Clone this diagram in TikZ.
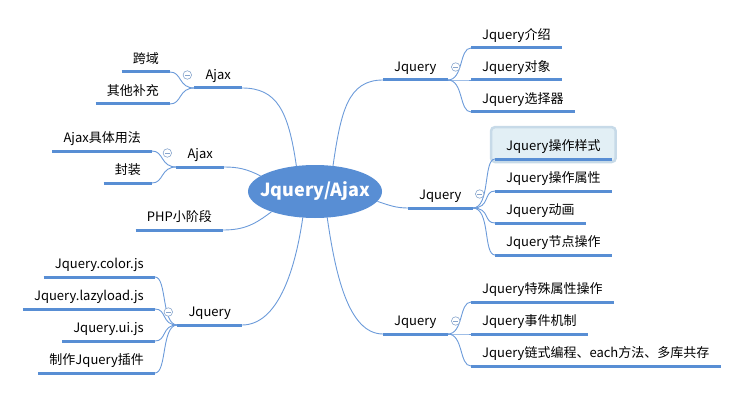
\documentclass[tikz,border=0pt]{standalone}
\usepackage{fontspec}
\setmainfont{Noto Sans CJK SC}
\usepackage{tikz}
\usetikzlibrary{shapes.geometric,positioning,backgrounds}

\definecolor{mapblue}{RGB}{88,142,212}
\definecolor{linkblue}{RGB}{108,155,218}
\definecolor{foldgray}{RGB}{135,165,205}
\definecolor{selfill}{RGB}{226,239,245}
\definecolor{selline}{RGB}{199,218,232}

\tikzset{
  root/.style={ellipse, fill=mapblue,
     minimum width=134pt, minimum height=53pt, inner sep=0pt},
  root label/.style={text=white, font=\fontsize{18}{20}\selectfont\bfseries, inner sep=0pt},
  topic/.style={font=\fontsize{13}{15}\selectfont,
     inner xsep=11pt, inner ysep=5pt, text height=9.5pt, text depth=3pt},
  uline/.style={draw=mapblue, line width=3pt},
  link/.style={draw=linkblue, line width=0.9pt},
  fold/.style={circle, draw=foldgray, line width=0.6pt, fill=white,
     minimum size=8.5pt, inner sep=0pt,
     path picture={\draw[foldgray, line width=0.6pt]
        ([xshift=-2.3pt]path picture bounding box.center) --
        ([xshift=2.3pt]path picture bounding box.center);}},
  selbox/.style={draw=selline, fill=selfill, line width=2.5pt, rounded corners=4pt}
}

\begin{document}
\begin{tikzpicture}[x=1pt, y=-1pt]
  \useasboundingbox (0,0) rectangle (749,401);

  % Root
  \node[root] (root) at (315,191.5) {};
  \node[root label] (rootlabel) at (root.center) {Jquery/Ajax};

  % Main topics
  \node[topic, anchor=south west] (j1) at (383,80) {Jquery};
  \node[topic, anchor=south west] (j2) at (408,208) {Jquery};
  \node[topic, anchor=south west] (j3) at (383,334) {Jquery};
  \node[topic, anchor=south east] (a1) at (242,88) {Ajax};
  \node[topic, anchor=south east] (a2) at (224,167) {Ajax};
  \node[topic, anchor=south east] (php) at (223,230) {PHP小阶段};
  \node[topic, anchor=south east] (j4) at (242,325) {Jquery};

  % Subtopics
  \foreach \t [count=\i] in {Jquery介绍,Jquery对象,Jquery选择器}
    \node[topic, anchor=south west] (j1c\i) at (471,16+32*\i) {\t};
  \foreach \t [count=\i] in {Jquery操作样式,Jquery操作属性,Jquery动画,Jquery节点操作}
    \node[topic, anchor=south west] (j2c\i) at (495,127+32*\i) {\t};
  \foreach \t [count=\i] in {Jquery特殊属性操作,Jquery事件机制,Jquery链式编程、each方法、多库共存}
    \node[topic, anchor=south west] (j3c\i) at (471,270+32*\i) {\t};
  \foreach \t [count=\i] in {跨域,其他补充}
    \node[topic, anchor=south east] (a1c\i) at (170,40+32*\i) {\t};
  \foreach \t [count=\i] in {Ajax具体用法,封装}
    \node[topic, anchor=south east] (a2c\i) at (152,119+32*\i) {\t};
  \foreach \t [count=\i] in {Jquery.color.js,Jquery.lazyload.js,Jquery.ui.js,制作Jquery插件}
    \node[topic, anchor=south east] (j4c\i) at (155,245+32*\i) {\t};

  % Selected subtopic
  \begin{scope}[on background layer]
    \draw[selbox] ([xshift=-4pt,yshift=-3pt]j2c1.south west)
      rectangle ([xshift=4pt,yshift=9pt]j2c1.north east);
  \end{scope}

  % Branches
  \draw[link] (root.55) .. controls +(8,-55) and +(-35,0) .. (j1.south west);
  \draw[link] (root.351) .. controls +(12,4) and +(-12,0) .. (j2.south west);
  \draw[link] (root.295) .. controls +(8,55) and +(-35,0) .. (j3.south west);
  \draw[link] (root.126) .. controls +(-8,-55) and +(35,0) .. (a1.south east);
  \draw[link] (root.164) .. controls +(-14,-7) and +(14,0) .. (a2.south east);
  \draw[link] (root.205) .. controls +(-16,12) and +(22,0) .. (php.south east);
  \draw[link] (root.245) .. controls +(-8,55) and +(35,0) .. (j4.south east);

  % Brackets
  \foreach \c in {j1c1,j1c2,j1c3}
    \draw[link] (j1.south east) .. controls +(16,0) and +(-12,0) .. (\c.south west);
  \foreach \c in {j2c1,j2c2,j2c3,j2c4}
    \draw[link] (j2.south east) .. controls +(18,0) and +(-12,0) .. (\c.south west);
  \foreach \c in {j3c1,j3c2,j3c3}
    \draw[link] (j3.south east) .. controls +(16,0) and +(-12,0) .. (\c.south west);
  \foreach \c in {a1c1,a1c2}
    \draw[link] (a1.south west) .. controls +(-16,0) and +(12,0) .. (\c.south east);
  \foreach \c in {a2c1,a2c2}
    \draw[link] (a2.south west) .. controls +(-16,0) and +(12,0) .. (\c.south east);
  \foreach \c in {j4c1,j4c2,j4c3,j4c4}
    \draw[link] (j4.south west) .. controls +(-16,0) and +(12,0) .. (\c.south east);

  % Underlines
  \foreach \n in {j1,j2,j3,a1,a2,php,j4,j1c1,j1c2,j1c3,j2c1,j2c2,j2c3,j2c4,
      j3c1,j3c2,j3c3,a1c1,a1c2,a2c1,a2c2,j4c1,j4c2,j4c3,j4c4}
    \draw[uline] (\n.south west) -- (\n.south east);

  % Fold markers
  \node[fold] (f1) at ([xshift=8pt,yshift=13pt]j1.south east) {};
  \node[fold] (f2) at ([xshift=7pt,yshift=14pt]j2.south east) {};
  \node[fold] (f3) at ([xshift=8pt,yshift=13pt]j3.south east) {};
  \node[fold] (f4) at ([xshift=-7pt,yshift=13pt]a1.south west) {};
  \node[fold] (f5) at ([xshift=-9pt,yshift=14pt]a2.south west) {};
  \node[fold] (f6) at ([xshift=-9pt,yshift=13pt]j4.south west) {};
\end{tikzpicture}
\end{document}
